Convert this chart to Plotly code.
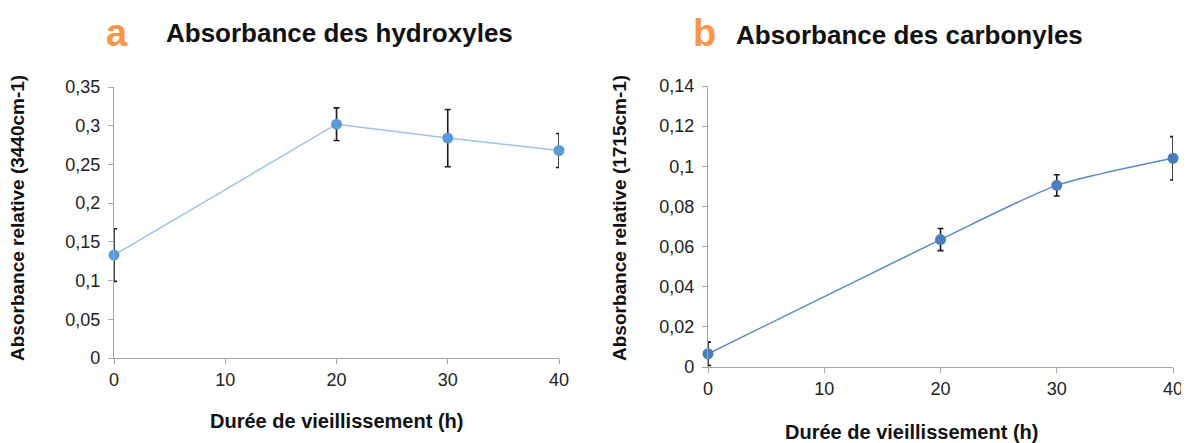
import plotly.graph_objects as go

# durations (h)
hours = [0, 20, 30, 40]

# panel a : hydroxyles
oh_abs = [0.133, 0.302, 0.284, 0.268]
oh_err = [0.034, 0.021, 0.037, 0.022]

# panel b : carbonyles
co_abs = [0.0066, 0.0635, 0.0905, 0.1040]
co_err = [0.0058, 0.0055, 0.0053, 0.0108]

x_ticks = [0, 10, 20, 30, 40]
ya_ticks = [0, 0.05, 0.1, 0.15, 0.2, 0.25, 0.3, 0.35]
ya_text = ["0", "0,05", "0,1", "0,15", "0,2", "0,25", "0,3", "0,35"]
yb_ticks = [0, 0.02, 0.04, 0.06, 0.08, 0.1, 0.12, 0.14]
yb_text = ["0", "0,02", "0,04", "0,06", "0,08", "0,1", "0,12", "0,14"]

# page body has an 8px margin, so the figure is made 8px smaller each way
OFF = 8
W, H = 1189 - OFF, 443 - OFF
FONT = "Liberation Sans, Arial, sans-serif"


def px_x(p):
    return (p - OFF) / W


def px_y(p):
    return (H - (p - OFF)) / H


fig = go.Figure()

fig.add_trace(go.Scatter(
    x=hours, y=oh_abs, mode="lines+markers", xaxis="x", yaxis="y",
    line=dict(color="#9dc3e6", width=1.5),
    marker=dict(color="#5b9bd5", size=11),
    error_y=dict(type="data", array=oh_err, color="#1a1a1a", thickness=1.6, width=3),
    cliponaxis=False, showlegend=False))

fig.add_trace(go.Scatter(
    x=hours, y=co_abs, mode="lines+markers", xaxis="x2", yaxis="y2",
    line=dict(color="#5b87c5", width=1.5, shape="spline", smoothing=0.6),
    marker=dict(color="#4a7ebb", size=11),
    error_y=dict(type="data", array=co_err, color="#1a1a1a", thickness=1.6, width=3),
    cliponaxis=False, showlegend=False))

axis_common = dict(showgrid=False, zeroline=False, showline=True, linecolor="#a6a6a6",
                   linewidth=1.2, ticks="outside", ticklen=5, tickcolor="#a6a6a6",
                   automargin=False,
                   tickfont=dict(family=FONT, size=18, color="#222"))

fig.update_layout(
    width=W, height=H, margin=dict(l=0, r=0, t=0, b=0, autoexpand=False),
    paper_bgcolor="white", plot_bgcolor="white",
    xaxis=dict(domain=[px_x(114), px_x(559)], range=[0, 40], tickvals=x_ticks,
               anchor="y", **axis_common),
    yaxis=dict(domain=[px_y(358), px_y(87)], range=[0, 0.35], tickvals=ya_ticks,
               ticktext=ya_text, anchor="x", ticklabelstandoff=4, **axis_common),
    xaxis2=dict(domain=[px_x(708), px_x(1173)], range=[0, 40], tickvals=x_ticks,
                anchor="y2", **axis_common),
    yaxis2=dict(domain=[px_y(367), px_y(86)], range=[0, 0.14], tickvals=yb_ticks,
                ticktext=yb_text, anchor="x2", ticklabelstandoff=4, **axis_common),
)

bold = dict(family=FONT, size=20, color="#111")
ann = [
    dict(x=px_x(117), y=px_y(33), text="<b>a</b>", font=dict(family=FONT, size=38, color="#f79646")),
    dict(x=px_x(339), y=px_y(33), text="<b>Absorbance des hydroxyles</b>", font=dict(family=FONT, size=26, color="#111")),
    dict(x=px_x(704), y=px_y(33), text="<b>b</b>", font=dict(family=FONT, size=38, color="#f79646")),
    dict(x=px_x(910), y=px_y(35), text="<b>Absorbance des carbonyles</b>", font=dict(family=FONT, size=26, color="#111")),
    dict(x=px_x(336), y=px_y(421), text="<b>Durée de vieillissement (h)</b>", font=bold),
    dict(x=px_x(911), y=px_y(432), text="<b>Durée de vieillissement (h)</b>", font=bold),
    dict(x=px_x(18), y=px_y(218), text="<b>Absorbance relative (3440cm-1)</b>", font=dict(family=FONT, size=19, color="#111"), textangle=-90),
    dict(x=px_x(620), y=px_y(218), text="<b>Absorbance relative (1715cm-1)</b>", font=dict(family=FONT, size=19, color="#111"), textangle=-90),
]
for a in ann:
    a.update(xref="paper", yref="paper", showarrow=False, xanchor="center", yanchor="middle")
    fig.add_annotation(**a)

fig.write_html("out.html")
